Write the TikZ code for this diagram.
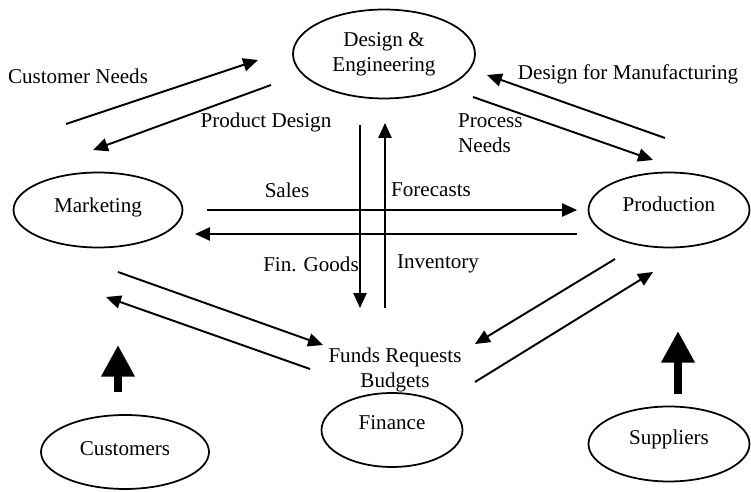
\documentclass[tikz,border=0pt]{standalone}
\usepackage{fontspec}
\setmainfont{Liberation Serif}
\usetikzlibrary{shapes.geometric,arrows.meta}
\tikzset{unit/.style = {ellipse,draw,line width=1pt,inner sep=0pt,text height=8.5pt},
         flow/.style = {line width=1.1pt,-{Triangle[length=8.5pt,width=7.5pt]}},
         supply/.style = {line width=4.5pt,-{Triangle[length=18pt,width=18pt]}}}

\begin{document}
\begin{tikzpicture}[x=0.02cm,y=-0.02cm,font=\fontsize{12}{14}\selectfont]
    \useasboundingbox (0,0) rectangle (751,492);

    % departments (text depth lifts the name above the centre)
    \node [ellipse,draw,line width=1pt,inner sep=0pt,minimum width=3.64cm,minimum height=1.78cm,align=center] (des) at (384,54) {Design \&\\Engineering};
    \node [unit,minimum width=3.38cm,minimum height=1.5cm,text depth=6pt] (mkt) at (98,210) {Marketing};
    \node [unit,minimum width=3.22cm,minimum height=1.5cm,text depth=6.5pt] (prd) at (669,210) {Production};
    \node [unit,minimum width=2.82cm,minimum height=1.48cm,text depth=9pt] (fin) at (392,430) {Finance};
    \node [unit,minimum width=3.36cm,minimum height=1.48cm,text depth=5pt] (cus) at (125,452) {Customers};
    \node [unit,minimum width=3.22cm,minimum height=1.5cm,text depth=8.3pt] (sup) at (669,444) {Suppliers};

    % labels
    \node (cn)  at (78,76)   {Customer Needs};
    \node (pd)  at (266,122) {Product Design};
    \node (dfm) at (628,74)  {Design for Manufacturing};
    \node [align=left,anchor=west] (pn) at (452,133) {Process\\Needs};
    \node (sal) at (287,190) {Sales};
    \node (fc)  at (431,190) {Forecasts};
    \node (fg)  at (311,264) {Fin. Goods};
    \node (inv) at (438,264) {Inventory};
    \node [align=center] (fr) at (395,370) {Funds Requests\\Budgets};

    % arrow ends
    \coordinate (a1) at (66,124);   \coordinate (b1) at (258,60);
    \coordinate (a2) at (271,85);   \coordinate (b2) at (93,150);
    \coordinate (a3) at (665,138);  \coordinate (b3) at (487,75);
    \coordinate (a4) at (473,97);   \coordinate (b4) at (653,160);
    \coordinate (a5) at (360,125);  \coordinate (b5) at (360,308);
    \coordinate (a6) at (385,308);  \coordinate (b6) at (385,123);
    \coordinate (a7) at (207,210);  \coordinate (b7) at (577,210);
    \coordinate (a8) at (577,234);  \coordinate (b8) at (195,234);
    \coordinate (a9) at (118,272);  \coordinate (b9) at (323,345);
    \coordinate (a10) at (310,369); \coordinate (b10) at (106,297);
    \coordinate (a11) at (615,259); \coordinate (b11) at (475,344);
    \coordinate (a12) at (475,382); \coordinate (b12) at (653,272);
    \coordinate (a13) at (118,392); \coordinate (b13) at (118,345);
    \coordinate (a14) at (678,394); \coordinate (b14) at (678,331);

    \draw [flow] (a1) -- (b1);
    \draw [flow] (a2) -- (b2);
    \draw [flow] (a3) -- (b3);
    \draw [flow] (a4) -- (b4);
    \draw [flow] (a5) -- (b5);
    \draw [flow] (a6) -- (b6);
    \draw [flow] (a7) -- (b7);
    \draw [flow] (a8) -- (b8);
    \draw [flow] (a9) -- (b9);
    \draw [flow] (a10) -- (b10);
    \draw [flow] (a11) -- (b11);
    \draw [flow] (a12) -- (b12);
    \draw [supply] (a13) -- (b13);
    \draw [supply] (a14) -- (b14);
\end{tikzpicture}
\end{document}
